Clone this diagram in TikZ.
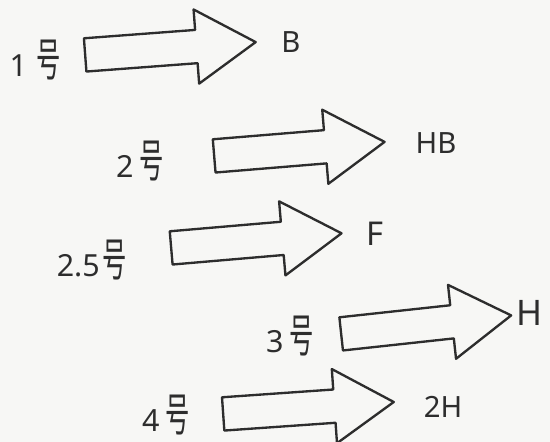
\documentclass[tikz,border=0pt]{standalone}
\usepackage{fontspec}
\usepackage{graphicx}
\setmainfont{Noto Sans}
\newfontfamily\cjk{Noto Sans CJK SC}
\usetikzlibrary{shapes.arrows}
\definecolor{pencil}{RGB}{45,45,45}
\definecolor{paper}{RGB}{247,247,245}
\newcommand{\hao}{\scalebox{0.8}[1.5]{\cjk 号}}
\tikzset{
  bigarrow/.style={draw=pencil, line width=2pt, line join=round, single arrow,
                   single arrow tip angle=64, single arrow head extend=0.615cm,
                   single arrow head indent=0pt, minimum height=5.13cm, minimum width=0pt,
                   inner xsep=0pt, inner ysep=0.465cm, anchor=tail},
  grade/.style={font=\fontsize{25}{29}\selectfont, text=pencil, inner sep=0pt},
  size/.style={font=\fontsize{26}{30}\selectfont, text=pencil, inner sep=0pt},
}
\begin{document}
\begin{tikzpicture}[x=0.03cm, y=-0.03cm]
\useasboundingbox[fill=paper] (0,0) rectangle (550,442);

% 1
\node[size] (s1) at (35,60) {1\hspace{0.3em}\hao};
\node[bigarrow, rotate=4.3] (a1) at (84,55) {};
\node[grade] (g1) at (291,42) {B};

% 2
\node[size] (s2) at (140,161) {2\hspace{0.2em}\hao};
\node[bigarrow, rotate=4.7] (a2) at (213,156) {};
\node[grade] (g2) at (436,143) {HB};

% 2.5
\node[size] (s3) at (92,260) {2.5\hspace{0.1em}\hao};
\node[bigarrow, rotate=4.9] (a3) at (170,248) {};
\node[grade, font=\fontsize{28}{32}\selectfont] (g3) at (375,234) {F};

% 3
\node[size] (s4) at (290,336) {3\hspace{0.2em}\hao};
\node[bigarrow, rotate=6.2] (a4) at (340,334) {};
\node[grade, font=\fontsize{30}{34}\selectfont] (g4) at (530,313) {H};

% 4
\node[size] (s5) at (166,415) {4\hspace{0.2em}\hao};
\node[bigarrow, rotate=4] (a5) at (222,414) {};
\node[grade] (g5) at (443,407) {2H};

\end{tikzpicture}
\end{document}
